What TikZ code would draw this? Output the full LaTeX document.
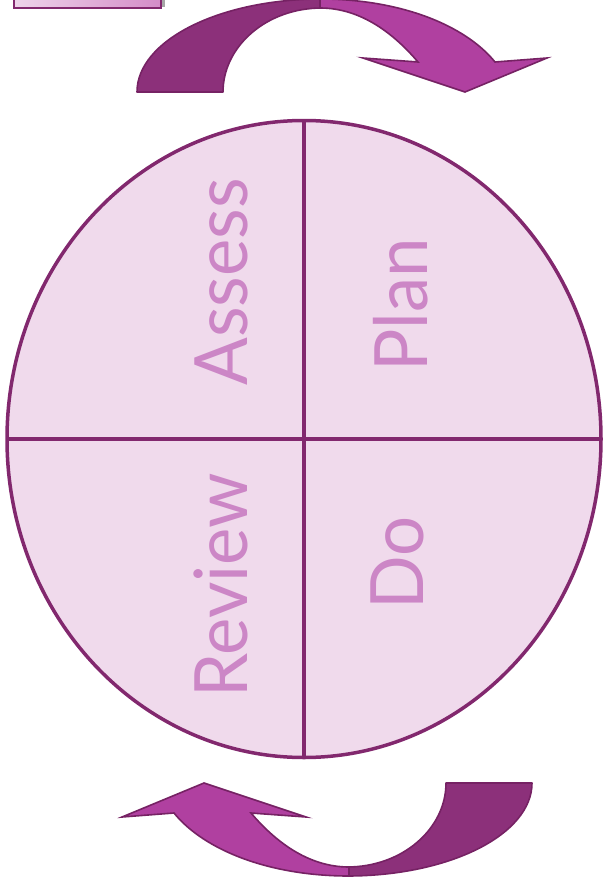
\documentclass[tikz,border=0pt]{standalone}
\usepackage{fontspec}
\setmainfont{Lato}
\usetikzlibrary{shapes.geometric}
\definecolor{ringfill}{RGB}{240,218,236}
\definecolor{ringline}{RGB}{130,40,110}
\definecolor{labelcol}{RGB}{204,134,198}
\definecolor{arrowdark}{RGB}{140,48,122}
\definecolor{arrowbright}{RGB}{176,64,160}
\definecolor{arrowedge}{RGB}{118,34,100}
\definecolor{tabL}{RGB}{238,212,234}
\definecolor{tabR}{RGB}{212,140,200}
\tikzset{
  quadlabel/.style={rotate=90, anchor=base, text=labelcol, inner sep=0pt,
    font=\fontsize{73.6}{80}\selectfont, xscale=0.96},
  darkpart/.style={fill=arrowdark, draw=arrowedge, line width=1.6pt, line join=round},
  brightpart/.style={fill=arrowbright, draw=arrowedge, line width=1.6pt, line join=miter},
}
\newcommand{\mycurvedarrow}{%
  \path[darkpart] (137,92) -- (223,92)
     .. controls (223,46.7) and (266,8) .. (322,8)
     -- (322,-1)
     .. controls (219,-1) and (137,40.7) .. (137,92) -- cycle;
  \path[brightpart] (320,-1)
     .. controls (400,-1) and (465,25) .. (495,62)
     -- (547,58) -- (465,92) -- (363,58) -- (418,62)
     .. controls (395,35) and (362,8) .. (320,8) -- cycle;
}
\begin{document}
\begin{tikzpicture}[x=1pt,y=-1pt]
\useasboundingbox (0,0) rectangle (603,891);
% small tab at top-left
\fill[gray!70] (17,-3) rectangle (165,7);
\path[left color=tabL, right color=tabR, draw=ringline, line width=1.2pt] (14,-3) rectangle (161,8);
% top arrow
\begin{scope}
  \mycurvedarrow
\end{scope}
% bottom arrow
\begin{scope}[rotate around={180:(334.5,437.5)}]
  \mycurvedarrow
\end{scope}
% circle
\node[ellipse, draw=ringline, fill=ringfill, line width=3.5pt, inner sep=0pt, outer sep=0pt,
      minimum width=594pt, minimum height=637pt] (c) at (304,439) {};
\draw[ringline, line width=3.5pt] (c.north) -- (c.south);
\draw[ringline, line width=3.5pt] (c.west) -- (c.east);
% labels
\node[quadlabel] (assess) at (247,282) {Assess};
\node[quadlabel] (plan) at (427,305) {Plan};
\node[quadlabel] (review) at (247,585) {Review};
\node[quadlabel] (do) at (423,563) {Do};
\end{tikzpicture}
\end{document}
